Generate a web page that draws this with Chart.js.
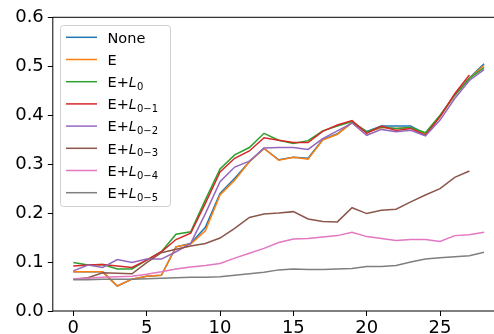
<!DOCTYPE html>
<html>
<head>
<meta charset="utf-8">
<script src="https://cdn.jsdelivr.net/npm/chart.js@4/dist/chart.umd.min.js"></script>
<style>
  html, body { margin: 0; padding: 0; overflow: hidden; background: #fff; width: 494px; height: 334px; }
  #c { display: block; }
</style>
</head>
<body>
<canvas id="c" width="510" height="334"></canvas>
<script>
// Epoch index shared by all series
const steps = Array.from({ length: 29 }, (_, i) => i);

// Series labels (L is drawn italic, the part after "_" as a subscript)
const seriesNames = ['None', 'E', 'E+L_0', 'E+L_{0-1}', 'E+L_{0-2}', 'E+L_{0-3}', 'E+L_{0-4}', 'E+L_{0-5}'];
const seriesColors = ['#1f77b4', '#ff7f0e', '#2ca02c', '#d62728', '#9467bd', '#8c564b', '#e377c2', '#7f7f7f'];

const none = [0.080, 0.080, 0.080, 0.051, 0.065, 0.071, 0.073, 0.131, 0.138, 0.171, 0.240, 0.271, 0.305, 0.332, 0.309,
  0.314, 0.312, 0.350, 0.362, 0.385, 0.367, 0.378, 0.378, 0.378, 0.362, 0.398, 0.441, 0.476, 0.505];
const e = [0.080, 0.080, 0.080, 0.051, 0.065, 0.071, 0.073, 0.131, 0.137, 0.164, 0.237, 0.267, 0.305, 0.332, 0.308,
  0.314, 0.310, 0.349, 0.361, 0.385, 0.365, 0.375, 0.373, 0.375, 0.361, 0.397, 0.441, 0.475, 0.502];
const eL0 = [0.099, 0.094, 0.095, 0.086, 0.086, 0.104, 0.121, 0.157, 0.162, 0.227, 0.290, 0.319, 0.334, 0.363, 0.349,
  0.342, 0.348, 0.368, 0.378, 0.387, 0.366, 0.376, 0.373, 0.375, 0.364, 0.400, 0.441, 0.475, 0.497];
const eL01 = [0.092, 0.094, 0.095, 0.092, 0.089, 0.104, 0.121, 0.146, 0.159, 0.220, 0.284, 0.312, 0.327, 0.354, 0.349,
  0.344, 0.344, 0.367, 0.380, 0.389, 0.363, 0.378, 0.369, 0.373, 0.359, 0.397, 0.444, 0.482];
const eL02 = [0.082, 0.094, 0.089, 0.105, 0.099, 0.106, 0.106, 0.121, 0.138, 0.199, 0.264, 0.294, 0.306, 0.333, 0.334,
  0.334, 0.330, 0.352, 0.368, 0.384, 0.359, 0.371, 0.366, 0.369, 0.358, 0.390, 0.434, 0.471, 0.493];
const eL03 = [0.065, 0.068, 0.078, 0.077, 0.076, 0.099, 0.119, 0.126, 0.133, 0.138, 0.149, 0.169, 0.191, 0.198, 0.200,
  0.203, 0.188, 0.183, 0.182, 0.211, 0.199, 0.206, 0.208, 0.223, 0.237, 0.250, 0.273, 0.286];
const eL04 = [0.066, 0.067, 0.069, 0.070, 0.071, 0.075, 0.080, 0.086, 0.090, 0.093, 0.097, 0.108, 0.118, 0.128, 0.140,
  0.147, 0.148, 0.151, 0.154, 0.161, 0.152, 0.148, 0.144, 0.146, 0.146, 0.142, 0.154, 0.156, 0.161];
const eL05 = [0.064, 0.064, 0.065, 0.065, 0.065, 0.066, 0.067, 0.068, 0.069, 0.069, 0.070, 0.073, 0.076, 0.079, 0.084,
  0.086, 0.085, 0.085, 0.086, 0.087, 0.091, 0.091, 0.093, 0.100, 0.106, 0.109, 0.111, 0.113, 0.120];

const seriesValues = [none, e, eL0, eL01, eL02, eL03, eL04, eL05];

const xTicks = [0, 5, 10, 15, 20, 25];
const yTicks = [0.0, 0.1, 0.2, 0.3, 0.4, 0.5, 0.6];

const FONT = "'DejaVu Sans', sans-serif";

// Frame around the plotting area, drawn above the lines
const framePlugin = {
  id: 'frame',
  afterDatasetsDraw(chart) {
    const { ctx, chartArea: a } = chart;
    ctx.save();
    ctx.strokeStyle = '#000';
    ctx.lineWidth = 1;
    ctx.strokeRect(a.left, a.top, a.right - a.left, a.bottom - a.top);
    ctx.restore();
  }
};

// Split "E+L_{0-1}" into plain prefix, italic symbol and subscript
function parseLabel(s) {
  const m = s.match(/^(.*?)L_\{?([^}]*)\}?$/);
  if (!m) return { pre: s, sym: '', sub: '' };
  return { pre: m[1], sym: 'L', sub: m[2].replace(/-/g, '\u2212') };
}

// Legend box in the upper-left corner with math-style labels
const legendPlugin = {
  id: 'mathLegend',
  afterDraw(chart) {
    const { ctx } = chart;
    const bx = 60.5, by = 25.5, bw = 110, bh = 181, r = 3;
    ctx.save();
    ctx.beginPath();
    ctx.moveTo(bx + r, by);
    ctx.arcTo(bx + bw, by, bx + bw, by + bh, r);
    ctx.arcTo(bx + bw, by + bh, bx, by + bh, r);
    ctx.arcTo(bx, by + bh, bx, by, r);
    ctx.arcTo(bx, by, bx + bw, by, r);
    ctx.closePath();
    ctx.fillStyle = 'rgba(255,255,255,0.8)';
    ctx.fill();
    ctx.strokeStyle = '#d0d0d0';
    ctx.lineWidth = 1;
    ctx.stroke();

    chart.data.datasets.forEach((ds, i) => {
      const y = 37.3 + i * 22.2;
      ctx.strokeStyle = ds.borderColor;
      ctx.lineWidth = 1.5;
      ctx.beginPath();
      ctx.moveTo(66, y);
      ctx.lineTo(97, y);
      ctx.stroke();

      const p = parseLabel(ds.label);
      const base = y + 5.2;
      let x = 107.5;
      ctx.fillStyle = '#000';
      ctx.textBaseline = 'alphabetic';
      ctx.textAlign = 'left';
      ctx.font = `14.5px ${FONT}`;
      ctx.fillText(p.pre, x, base);
      x += ctx.measureText(p.pre).width;
      if (p.sym) {
        ctx.font = `italic 14px ${FONT}`;
        ctx.fillText(p.sym, x, base);
        x += ctx.measureText(p.sym).width + 0.3;
        ctx.font = `10px ${FONT}`;
        ctx.fillText(p.sub, x, base + 2.8);
      }
    });
    ctx.restore();
  }
};

const datasets = seriesNames.map((name, i) => ({
  label: name,
  data: seriesValues[i].map((v, k) => ({ x: steps[k], y: v })),
  borderColor: seriesColors[i],
  backgroundColor: seriesColors[i],
  borderWidth: 1.5,
  pointRadius: 0,
  tension: 0,
  fill: false,
  order: seriesNames.length - i
}));

new Chart(document.getElementById('c'), {
  type: 'line',
  data: { datasets },
  options: {
    responsive: false,
    animation: false,
    devicePixelRatio: 1,
    layout: { padding: { top: 17.3, right: 5.4, left: 0, bottom: 0 } },
    plugins: { legend: { display: false }, tooltip: { enabled: false } },
    scales: {
      x: {
        type: 'linear',
        min: -1.4,
        max: 29.4,
        afterBuildTicks: s => { s.ticks = xTicks.map(v => ({ value: v })); },
        afterFit: s => { s.height = 23; },
        grid: { drawOnChartArea: false, drawTicks: true, tickLength: 5, color: '#000', lineWidth: 1 },
        border: { display: false },
        ticks: { color: '#000', padding: 2, font: { family: FONT, size: 18 }, callback: v => String(v) }
      },
      y: {
        type: 'linear',
        min: 0,
        max: 0.6,
        afterBuildTicks: s => { s.ticks = yTicks.map(v => ({ value: v })); },
        afterFit: s => { s.width = 52.8; },
        grid: { drawOnChartArea: false, drawTicks: true, tickLength: 5, color: '#000', lineWidth: 1 },
        border: { display: false },
        ticks: { color: '#000', padding: 4, font: { family: FONT, size: 18 }, callback: v => v.toFixed(1) }
      }
    }
  },
  plugins: [framePlugin, legendPlugin]
});
</script>
</body>
</html>
